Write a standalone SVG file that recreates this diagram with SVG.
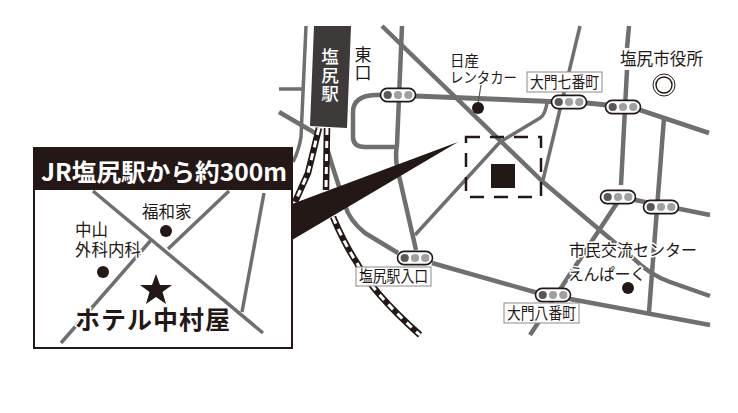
<svg xmlns="http://www.w3.org/2000/svg" width="738" height="413" viewBox="0 0 738 413">
<style>
text{font-family:"Noto Sans CJK JP","Noto Sans",sans-serif;fill:#231815}
.road{fill:none;stroke:#6f6f6f;stroke-width:4.5;stroke-linejoin:round}
.thin{stroke-width:3.5}
.wide{stroke-width:5}
.railb{fill:none;stroke:#231815;stroke-width:6.5}
.railw{fill:none;stroke:#fff;stroke-width:3;stroke-dasharray:7 6}
.sig{fill:#fff;stroke:#231815;stroke-width:1.6}
.l1{fill:#595757}.l2{fill:#9fa0a0}
.tag{fill:#fff;stroke:#8a8a8a;stroke-width:1}
.t15{font-size:15.5px}
.halo{paint-order:stroke;stroke:#fff;stroke-width:3px}
.vert{writing-mode:vertical-rl;letter-spacing:1px}
.dot{fill:#231815}
</style>
<defs>
<g id="signal">
<rect class="sig" x="-17.5" y="-6.6" width="35" height="13.2" rx="6.6"/>
<circle class="l1" cx="-10.300" r="4.100"/><circle class="l2" cx="0" r="4.100"/><circle class="l2" cx="10.300" r="4.100"/>
</g>
</defs>
<rect width="738" height="413" fill="#fff"/>
<g id="connectors">
<path class="road thin" d="M306 26L301 137Q299 150 293 162"/>
<path class="road thin" d="M279 89L302 89"/>
<path class="road" d="M279 112L315 133"/>
<path class="road" d="M326 145L333 168L345 205Q349 220 365 233L398 253"/>
<path class="road" d="M432 263L538 293L710 325"/>
<path class="road" d="M402 26L397 145Q394 160 400 180L416 250"/>
<path class="road" d="M382 26L543 182L633 258Q650 275 670 282L710 296"/>
<path class="road" d="M381 95L375 95Q353 96 353 112V137Q353 147 365 147L396 147"/>
<path class="road wide" d="M415 96L587 103L607 105M640 110L709 133"/>
<path class="road thin" d="M580 26L543 180"/>
<path class="road thin" d="M415 235L500 142L540 118Q545 115 547 103"/>
<path class="road" d="M629 26L627 48M627 70L621 185M617 203L530 335"/>
<path class="road" d="M664 118L649 312"/>
<path class="road" d="M635 200L710 215"/>
<line x1="481" y1="85" x2="478" y2="104" stroke="#595757" stroke-width="1.2"/>
<path class="railb" d="M319 128L308 173L295 202"/>
<path class="railw" d="M319 128L308 173L295 202"/>
<path class="railb" d="M327 128L326 190"/>
<path class="railw" d="M327 128L326 190"/>
<path class="railb" d="M333 217Q345 245 357 263Q372 292 420 335"/>
<path class="railw" d="M333 217Q345 245 357 263Q372 292 420 335"/>
<path d="M458 142L292 204V240Z" fill="#231815"/>
</g>
<g id="station"><path d="M314 26H351L347 128L310 126Z" fill="#3e3a39"/>
<text class="vert" x="330" y="48" font-size="17.500" font-weight="500" style="fill:#fff">塩尻駅</text></g>
<g id="east-exit"><text class="vert" x="363" y="46.500" font-size="17">東口</text></g>
<g id="nissan"><text font-size="14.500"><tspan x="450" y="66">日産</tspan><tspan x="450" y="83" textLength="67" lengthAdjust="spacingAndGlyphs">レンタカー</tspan></text>
<circle class="dot" cx="478" cy="108" r="6"/></g>
<g id="city-hall"><text x="620" y="65" font-size="17" class="halo" textLength="83" lengthAdjust="spacingAndGlyphs">塩尻市役所</text>
<circle cx="664" cy="85" r="11" fill="none" stroke="#231815" stroke-width="1"/>
<circle cx="664" cy="85" r="8" fill="none" stroke="#231815" stroke-width="1.400"/></g>
<g id="hotel-area"><rect x="466" y="137" width="75" height="60" fill="none" stroke="#231815" stroke-width="2.500" stroke-dasharray="14 10"/>
<rect x="491" y="164" width="24" height="24" fill="#231815"/></g>
<g id="signals">
<use href="#signal" x="398" y="95"/><use href="#signal" x="569" y="102"/><use href="#signal" x="623" y="107"/>
<use href="#signal" x="618" y="197"/><use href="#signal" x="661" y="207"/><use href="#signal" x="415" y="258"/><use href="#signal" x="553" y="295"/>
</g>
<g id="daimon7"><rect class="tag" x="527" y="72" width="75" height="20"/><text class="t15" x="530" y="88" textLength="69" lengthAdjust="spacingAndGlyphs">大門七番町</text></g>
<g id="entrance"><rect class="tag" x="356" y="267" width="75" height="19"/><text class="t15" x="359" y="282" textLength="69" lengthAdjust="spacingAndGlyphs">塩尻駅入口</text></g>
<g id="daimon8"><rect class="tag" x="504" y="303" width="75" height="20"/><text class="t15" x="507" y="319" textLength="69" lengthAdjust="spacingAndGlyphs">大門八番町</text></g>
<g id="civic-center"><text x="569" y="256" font-size="16" class="halo" textLength="128">市民交流センター</text>
<text x="568" y="280" font-size="16" class="halo" textLength="78">えんぱーく</text>
<circle class="dot" cx="628" cy="288" r="6"/></g>
<g id="inset">
<rect x="34" y="148" width="258" height="200" fill="#fff" stroke="#231815" stroke-width="2"/>
<rect x="33" y="147" width="260" height="43" fill="#231815"/>
<text x="41" y="181" font-size="24" font-weight="700" textLength="246" lengthAdjust="spacingAndGlyphs" style="fill:#fff">JR塩尻駅から約300m</text>
<g id="inset-roads">
<path class="road thin" d="M93 191L263 333"/>
<path class="road thin" d="M229 191L168 249"/>
<path class="road thin" d="M152 239L61 343"/>
<path class="road thin" d="M264 193L242 312"/>
</g>
<g id="fukuwaya"><text x="142" y="218" font-size="16.500" class="halo">福和家</text><circle class="dot" cx="166" cy="231" r="6"/></g>
<g id="nakayama"><text font-size="16.500" class="halo"><tspan x="75" y="236">中山</tspan><tspan x="75" y="256" textLength="66">外科内科</tspan></text><circle class="dot" cx="103" cy="272" r="6"/></g>
<g id="hotel"><path d="M156 274L160 285H172L162.500 292L166 304L156 297L146 304L149.500 292L140 285H152Z" fill="#231815"/>
<text x="75" y="329" font-size="25" font-weight="700" class="halo" textLength="155">ホテル中村屋</text></g>
</g>
</svg>
